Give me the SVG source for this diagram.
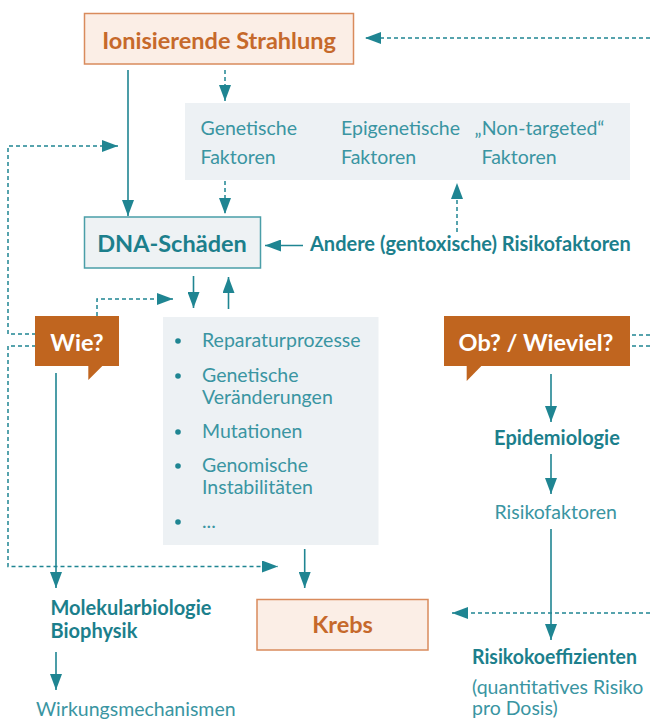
<svg xmlns="http://www.w3.org/2000/svg" width="650" height="720" viewBox="0 0 650 720">
<style>
.ln{fill:none;stroke:#1F8592;stroke-width:1.6}
.ds{fill:none;stroke:#1F8592;stroke-width:1.5;stroke-dasharray:4 3}
.t{font-family:Lato,"Open Sans",sans-serif;font-size:19.5px;fill:#3A95A2}
.b{font-family:Lato,"Open Sans",sans-serif;font-size:20px;font-weight:bold;fill:#1C7F8C}
.h{font-family:Lato,"Open Sans",sans-serif;font-size:23.5px;font-weight:bold}
.gray{fill:#EDF1F4}
.orb{fill:#FBEEE6;stroke:#D98B5C;stroke-width:1.5}
.call{fill:#C0651F}
</style>
<defs>
<marker id="ah" markerUnits="userSpaceOnUse" markerWidth="16" markerHeight="12" refX="16" refY="6" orient="auto">
<path d="M0,0 L16,6 L0,12 Z" fill="#1F8592"/>
</marker>
</defs>
<g id="connectors">
<path class="ds" d="M650,38 H365" marker-end="url(#ah)"/>
<path class="ln" d="M128,70 V216" marker-end="url(#ah)"/>
<path class="ds" d="M225,70 V101" marker-end="url(#ah)"/>
<path class="ds" d="M225,181 V214" marker-end="url(#ah)"/>
<path class="ds" d="M457,232 V183" marker-end="url(#ah)"/>
<path class="ln" d="M303,245.5 H265" marker-end="url(#ah)"/>
<path class="ds" d="M36,334 H8 V146 H118" marker-end="url(#ah)"/>
<path class="ds" d="M36,346 H8 V566.5 H278" marker-end="url(#ah)"/>
<path class="ds" d="M97,316 V299 H173" marker-end="url(#ah)"/>
<path class="ln" d="M193.5,276 V308" marker-end="url(#ah)"/>
<path class="ln" d="M228.5,309 V277" marker-end="url(#ah)"/>
<path class="ln" d="M56,373 V588" marker-end="url(#ah)"/>
<path class="ln" d="M304.7,549 V588" marker-end="url(#ah)"/>
<path class="ln" d="M56,652 V690" marker-end="url(#ah)"/>
<path class="ds" d="M650,613 H452" marker-end="url(#ah)"/>
<path class="ln" d="M551,374 V422" marker-end="url(#ah)"/>
<path class="ln" d="M551,454 V494" marker-end="url(#ah)"/>
<path class="ln" d="M551,529 V640" marker-end="url(#ah)"/>
<path class="ds" d="M632,335 H650 M632,346 H650"/>
</g>
<g id="ionisierende">
<rect class="orb" x="84.5" y="13.5" width="269" height="50.5"/>
<text class="h" x="219" y="49" text-anchor="middle" fill="#C6692B">Ionisierende Strahlung</text>
</g>
<g id="faktoren">
<rect class="gray" x="185" y="103" width="445" height="77"/>
<text class="t" x="200.5" y="135">Genetische</text>
<text class="t" x="200.5" y="164">Faktoren</text>
<text class="t" x="341" y="135">Epigenetische</text>
<text class="t" x="341" y="164">Faktoren</text>
<text class="t" x="474.5" y="135">„Non-targeted“</text>
<text class="t" x="481.5" y="164">Faktoren</text>
</g>
<g id="dna">
<rect x="84.5" y="217" width="176" height="51" fill="#EEF2F4" stroke="#4A9EA8" stroke-width="1.5"/>
<text class="h" x="172" y="252" text-anchor="middle" fill="#1C7F8C">DNA-Schäden</text>
</g>
<g id="andere">
<text class="b" x="310" y="251">Andere (gentoxische) Risikofaktoren</text>
</g>
<g id="wie">
<rect class="call" x="35" y="316" width="84" height="50"/>
<path class="call" d="M88.3,365 L103.3,365 L88.3,380 Z"/>
<text class="h" x="77" y="351" text-anchor="middle" fill="#FFFFFF">Wie?</text>
</g>
<g id="prozesse">
<rect class="gray" x="163" y="317" width="215.5" height="228"/>
<g fill="#1F8592">
<circle cx="178" cy="341" r="2.8"/>
<circle cx="178" cy="376" r="2.8"/>
<circle cx="178" cy="432" r="2.8"/>
<circle cx="178" cy="466" r="2.8"/>
<circle cx="178" cy="522" r="2.8"/>
</g>
<text class="t" x="202" y="347">Reparaturprozesse</text>
<text class="t" x="202" y="382">Genetische</text>
<text class="t" x="202" y="404">Veränderungen</text>
<text class="t" x="202" y="438">Mutationen</text>
<text class="t" x="202" y="472">Genomische</text>
<text class="t" x="202" y="494">Instabilitäten</text>
<text class="t" x="202" y="528">...</text>
</g>
<g id="ob">
<rect class="call" x="444" y="316" width="186" height="50"/>
<path class="call" d="M466.7,365 L482.3,365 L466.7,381 Z"/>
<text class="h" x="536" y="351" text-anchor="middle" fill="#FFFFFF">Ob? / Wieviel?</text>
</g>
<g id="epidemiologie">
<text class="b" x="557" y="445" text-anchor="middle">Epidemiologie</text>
</g>
<g id="risikofaktoren">
<text class="t" x="494.5" y="519">Risikofaktoren</text>
</g>
<g id="molekularbiologie">
<text class="b" x="50.5" y="615">Molekularbiologie</text>
<text class="b" x="50.5" y="638">Biophysik</text>
</g>
<g id="wirkungsmechanismen">
<text class="t" x="36" y="716">Wirkungsmechanismen</text>
</g>
<g id="krebs">
<rect class="orb" x="257" y="599.5" width="171" height="50.5"/>
<text class="h" x="342.5" y="633" text-anchor="middle" fill="#C6692B">Krebs</text>
</g>
<g id="risikokoeffizienten">
<text class="b" x="472" y="664" textLength="165" lengthAdjust="spacingAndGlyphs">Risikokoeffizienten</text>
<text class="t" x="472" y="694">(quantitatives Risiko</text>
<text class="t" x="472" y="715">pro Dosis)</text>
</g>
</svg>
